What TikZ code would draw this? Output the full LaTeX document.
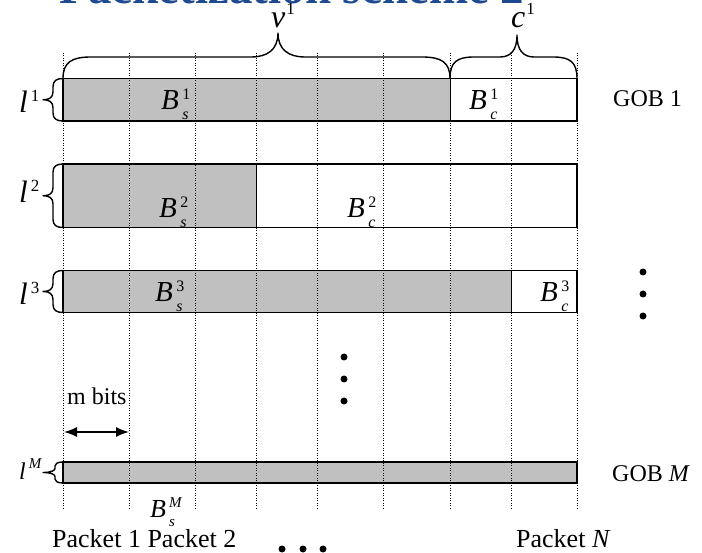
\documentclass[tikz,border=0pt]{standalone}
\usepackage{fontspec}
\setmainfont{Liberation Serif}
\usetikzlibrary{arrows.meta}
\definecolor{barfill}{RGB}{192,192,192}
\definecolor{titleblue}{RGB}{31,73,145}
\newcommand{\fsz}[1]{\fontsize{#1}{#1}\selectfont}
% main letter, subscript, superscript
\newcommand{\symB}[3]{{\fsz{29}\textit{#1}}\kern3.5pt\makebox[0pt][l]{\raisebox{10pt}{\fsz{16}#3}}\raisebox{-10pt}{\fsz{16}\textit{#2}}}
\newcommand{\symBs}[3]{{\fsz{26}\textit{#1}}\kern3pt\makebox[0pt][l]{\raisebox{10pt}{\fsz{15}#3}}\raisebox{-9pt}{\fsz{15}\textit{#2}}}
\newcommand{\symL}[1]{{\fsz{31}\textit{l}}\kern3pt\raisebox{11pt}{\fsz{17}#1}}
\newcommand{\leftbrc}[5]{%
  \draw[brc] (63,#1) .. controls (57,#1) and (#4,#1+2) .. (#4,#1+#5) -- (#4,#3-#5)
    .. controls (#4,#3-2) and (#4-4,#3) .. (43,#3)
    .. controls (#4-4,#3) and (#4,#3+2) .. (#4,#3+#5) -- (#4,#2-#5)
    .. controls (#4,#2-2) and (57,#2) .. (63,#2);}
\begin{document}
\begin{tikzpicture}[x=1pt,y=-1pt,
  bar/.style={draw=black,line width=1.6pt},
  split/.style={line width=1pt},
  gridline/.style={line width=0.8pt,dash pattern=on 0.9pt off 1.6pt},
  brc/.style={line width=1.4pt,line join=round},
  lbl/.style={inner sep=0pt,anchor=base west},
  txt/.style={inner sep=0pt,anchor=base west,font=\fsz{24}},
  bigdot/.style={circle,fill=black,inner sep=0pt,minimum size=7pt}]
\useasboundingbox (0,0) rectangle (702,553);
% title (cut by the page edge)
\node[inner sep=0pt,anchor=base,text=titleblue,font=\fsz{47}\bfseries] (title) at (292,4) {Packetization scheme 2};
% rows
\fill[barfill] (63,78.5) rectangle (450,121);
\draw[bar] (63,78.5) rectangle (577,121);
\draw[split] (450,78.5) -- (450,121);
\fill[barfill] (63,164) rectangle (256,227.5);
\draw[bar] (63,164) rectangle (577,227.5);
\draw[split] (256,164) -- (256,227.5);
\fill[barfill] (63,270.5) rectangle (511,312.5);
\draw[bar] (63,270.5) rectangle (577,312.5);
\draw[split] (511,270.5) -- (511,312.5);
\fill[barfill] (63,462) rectangle (577,483);
\draw[bar] (63,462) rectangle (577,483);
% dotted packet boundaries
\foreach \x in {63,129,195,256,317,383,450,511,577}
  \draw[gridline] (\x,53) -- (\x,510);
% top braces
\draw[brc] (63,78.5) .. controls (63,62) and (72,57) .. (91,57) -- (251,57)
  .. controls (267,57) and (278,50) .. (278,33)
  .. controls (278,50) and (289,57) .. (305,57) -- (422,57)
  .. controls (441,57) and (450,62) .. (450,78.5);
\draw[brc] (450,78.5) .. controls (450,62) and (457,57) .. (474,57) -- (500,57)
  .. controls (511,57) and (517,50) .. (517,35)
  .. controls (517,50) and (523,57) .. (534,57) -- (553,57)
  .. controls (570,57) and (577,62) .. (577,78.5);
\node[lbl] (v1) at (271,28) {{\fsz{32}\textit{v}}\kern1pt\raisebox{13pt}{\fsz{17}1}};
\node[lbl] (c1) at (511,28) {{\fsz{32}\textit{c}}\kern1pt\raisebox{13pt}{\fsz{17}1}};
% left braces
\leftbrc{78.5}{121}{99.75}{53}{8}
\leftbrc{164}{227.5}{195.75}{53}{8}
\leftbrc{270.5}{312.5}{291.5}{53}{8}
\leftbrc{462}{483}{472.5}{55}{4}
\node[lbl] (l1) at (19,113) {\symL{1}};
\node[lbl] (l2) at (19,203) {\symL{2}};
\node[lbl] (l3) at (19,305) {\symL{3}};
\node[lbl] (lM) at (19,479) {{\fsz{24}\textit{l}}\kern3pt\raisebox{11pt}{\fsz{15}\textit{M}}};
% block labels
\node[lbl] (bs1) at (161,110) {\symB{B}{s}{1}};
\node[lbl] (bc1) at (469,110) {\symB{B}{c}{1}};
\node[lbl] (bs2) at (159,218) {\symB{B}{s}{2}};
\node[lbl] (bc2) at (347,218) {\symB{B}{c}{2}};
\node[lbl] (bs3) at (155,302) {\symB{B}{s}{3}};
\node[lbl] (bc3) at (540,302) {\symB{B}{c}{3}};
\node[lbl] (bsM) at (150,517) {\symBs{B}{s}{\textit{M}}};
% GOB labels
\node[txt] (gob1) at (613,107) {GOB 1};
\node[txt] (gobM) at (612,481) {GOB \textit{M}};
% m bits
\node[txt] (mbits) at (67,405) {m bits};
\coordinate (ma) at (64,432);
\coordinate (mb) at (129,432);
\draw[line width=1.6pt,{Latex[length=13pt,width=10pt]}-{Latex[length=13pt,width=10pt]}] (ma) -- (mb);
% packet labels
\node[txt,font=\fsz{26}] (p12) at (52,547) {Packet 1 Packet 2};
\node[txt,font=\fsz{26}] (pN) at (516,547) {Packet \textit{N}};
% ellipses
\foreach \y [count=\i] in {272,294,316} \node[bigdot] (rd\i) at (643,\y) {};
\foreach \y [count=\i] in {357,379,401} \node[bigdot] (md\i) at (344,\y) {};
\foreach \x [count=\i] in {282,303,323} \node[bigdot] (bd\i) at (\x,549) {};
\end{tikzpicture}
\end{document}
